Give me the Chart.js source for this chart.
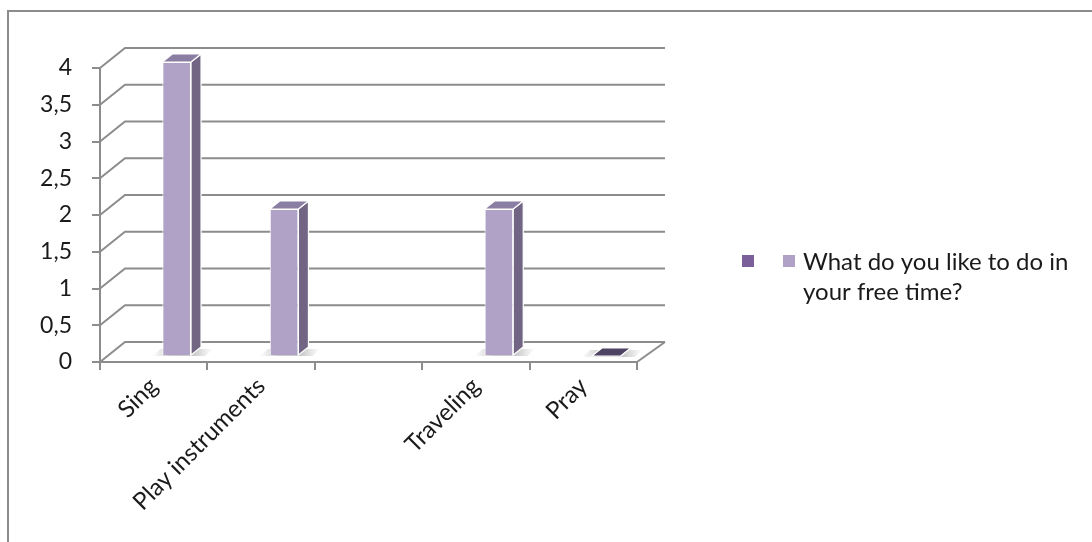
<!DOCTYPE html>
<html>
<head>
<meta charset="utf-8">
<script src="https://cdn.jsdelivr.net/npm/chart.js@4.4.1/dist/chart.umd.min.js"></script>
<style>
  html, body { margin: 0; padding: 0; background: #fff; }
  #wrap { width: 1092px; height: 542px; position: relative; }
</style>
</head>
<body>
<div id="wrap"><canvas id="chart"></canvas></div>
<script>
const categories = ["Sing", "Play instruments", "", "Traveling", "Pray"]
const freeTime = [4, 2, null, 2, 0]
const unnamedSeries = [null, null, null, null, null]
const seriesNames = ["", "What do you like to do in your free time?"]
const yTicks = [0, 0.5, 1, 1.5, 2, 2.5, 3, 3.5, 4]

const GRID = "#8c8c8c"
const WALL = { x: 25, y: -20 }      // back wall offset of the fake 3d box
const SHIFT = { x: 23, y: -6 }      // bars sit a bit into the box
const DEPTH = { x: 10, y: -8 }      // bar thickness
const FONT = "Lato, 'Open Sans', sans-serif"

Chart.defaults.font.family = FONT
Chart.defaults.font.size = 22
Chart.defaults.color = "#1a1a1a"

// draws the back wall, bar sides/tops and the legend
const box3d = {
  id: "box3d",
  beforeDraw(chart) {
    const { ctx, chartArea: a, scales: { y } } = chart
    ctx.save()
    ctx.strokeStyle = GRID
    ctx.lineWidth = 2
    ctx.strokeRect(8, 11, 1200, 600)
    y.ticks.forEach(t => {
      const py = y.getPixelForValue(t.value)
      ctx.beginPath()
      ctx.moveTo(a.left, py)
      ctx.lineTo(a.left + WALL.x, py + WALL.y)
      ctx.lineTo(a.right + WALL.x + 3, py + WALL.y)
      ctx.stroke()
    })
    ctx.beginPath()
    ctx.moveTo(a.right, a.bottom)
    ctx.lineTo(a.right + WALL.x + 3, a.bottom + WALL.y)
    ctx.stroke()
    ctx.restore()
  },
  beforeDatasetDraw(chart, args) {
    if (args.index !== 1) return
    const ctx = chart.ctx
    ctx.save()
    ctx.translate(SHIFT.x, SHIFT.y)
    // soft floor shadow under each bar
    args.meta.data.forEach((bar, i) => {
      if (freeTime[i] == null) return
      const { x, base, width } = bar.getProps(["x", "base", "width"], true)
      const l = x - width / 2 - 10, r = x + width / 2 + 14
      const g = ctx.createLinearGradient(l, 0, r + 8, 0)
      g.addColorStop(0, "rgba(200,200,200,0)")
      g.addColorStop(0.3, "rgba(190,190,190,0.8)")
      g.addColorStop(0.7, "rgba(190,190,190,0.8)")
      g.addColorStop(1, "rgba(200,200,200,0)")
      ctx.fillStyle = g
      ctx.beginPath()
      ctx.moveTo(l, base + 1)
      ctx.lineTo(r, base + 1)
      ctx.lineTo(r + 8, base - 6)
      ctx.lineTo(l + 8, base - 6)
      ctx.closePath()
      ctx.fill()
    })
  },
  afterDatasetDraw(chart, args) {
    if (args.index !== 1) return
    const ctx = chart.ctx
    ctx.strokeStyle = "#ffffff"
    ctx.lineWidth = 1.2
    args.meta.data.forEach((bar, i) => {
      if (freeTime[i] == null) return
      const { x, y, base, width } = bar.getProps(["x", "y", "base", "width"], true)
      const l = x - width / 2, r = x + width / 2
      ctx.fillStyle = "#726583"
      ctx.beginPath()
      ctx.moveTo(r, y)
      ctx.lineTo(r + DEPTH.x, y + DEPTH.y)
      ctx.lineTo(r + DEPTH.x, base + DEPTH.y)
      ctx.lineTo(r, base)
      ctx.closePath()
      ctx.fill()
      ctx.stroke()
      ctx.fillStyle = freeTime[i] === 0 ? "#4f4363" : "#8b7ea3"
      ctx.beginPath()
      ctx.moveTo(l, y)
      ctx.lineTo(r, y)
      ctx.lineTo(r + DEPTH.x, y + DEPTH.y)
      ctx.lineTo(l + DEPTH.x, y + DEPTH.y)
      ctx.closePath()
      ctx.fill()
      ctx.stroke()
    })
    ctx.restore()
  },
  afterDraw(chart) {
    const ctx = chart.ctx
    ctx.save()
    ctx.font = "24px " + FONT
    ctx.textBaseline = "alphabetic"
    chart.data.datasets.forEach((ds, i) => {
      const sx = 742 + i * 41
      ctx.fillStyle = ds.backgroundColor
      ctx.fillRect(sx, 255, 12, 12)
      if (!ds.label) return
      // wrap the long series name like the original
      const words = ds.label.split(" ")
      const lines = []
      let line = ""
      words.forEach(w => {
        const test = line ? line + " " + w : w
        if (ctx.measureText(test).width > 280 && line) { lines.push(line); line = w } else line = test
      })
      lines.push(line)
      ctx.fillStyle = "#1a1a1a"
      lines.forEach((t, k) => ctx.fillText(t, sx + 20, 270 + k * 30))
    })
    ctx.restore()
  }
}

new Chart(document.getElementById("chart"), {
  type: "bar",
  data: {
    labels: categories,
    datasets: [
      {
        label: seriesNames[0],
        data: unnamedSeries,
        backgroundColor: "#7a5f9a"
      },
      {
        label: seriesNames[1],
        data: freeTime,
        backgroundColor: "#b0a2c6",
        borderColor: "#ffffff",
        borderWidth: 1,
        clip: false
      }
    ]
  },
  options: {
    responsive: true,
    maintainAspectRatio: false,
    animation: false,
    events: [],
    layout: { padding: { left: 0, right: 455, top: 68, bottom: 0 } },
    datasets: { bar: { grouped: false, categoryPercentage: 1, barPercentage: 0.267 } },
    plugins: { legend: { display: false }, tooltip: { enabled: false } },
    scales: {
      x: {
        grid: { drawOnChartArea: false, tickLength: 8, color: GRID, lineWidth: 2 },
        border: { color: GRID, width: 2 },
        ticks: { minRotation: 45, maxRotation: 45, autoSkip: false, padding: 2, font: { size: 24 } },
        afterFit: s => { s.height = 180 }
      },
      y: {
        min: 0,
        max: 4,
        grid: { drawOnChartArea: false, tickLength: 8, color: GRID, lineWidth: 2 },
        border: { color: GRID, width: 2 },
        ticks: { padding: 20, font: { size: 23 }, callback: v => String(v).replace(".", ",") },
        afterBuildTicks: s => { s.ticks = yTicks.map(v => ({ value: v })) },
        afterFit: s => { s.width = 100 }
      }
    }
  },
  plugins: [box3d]
})
</script>
</body>
</html>
